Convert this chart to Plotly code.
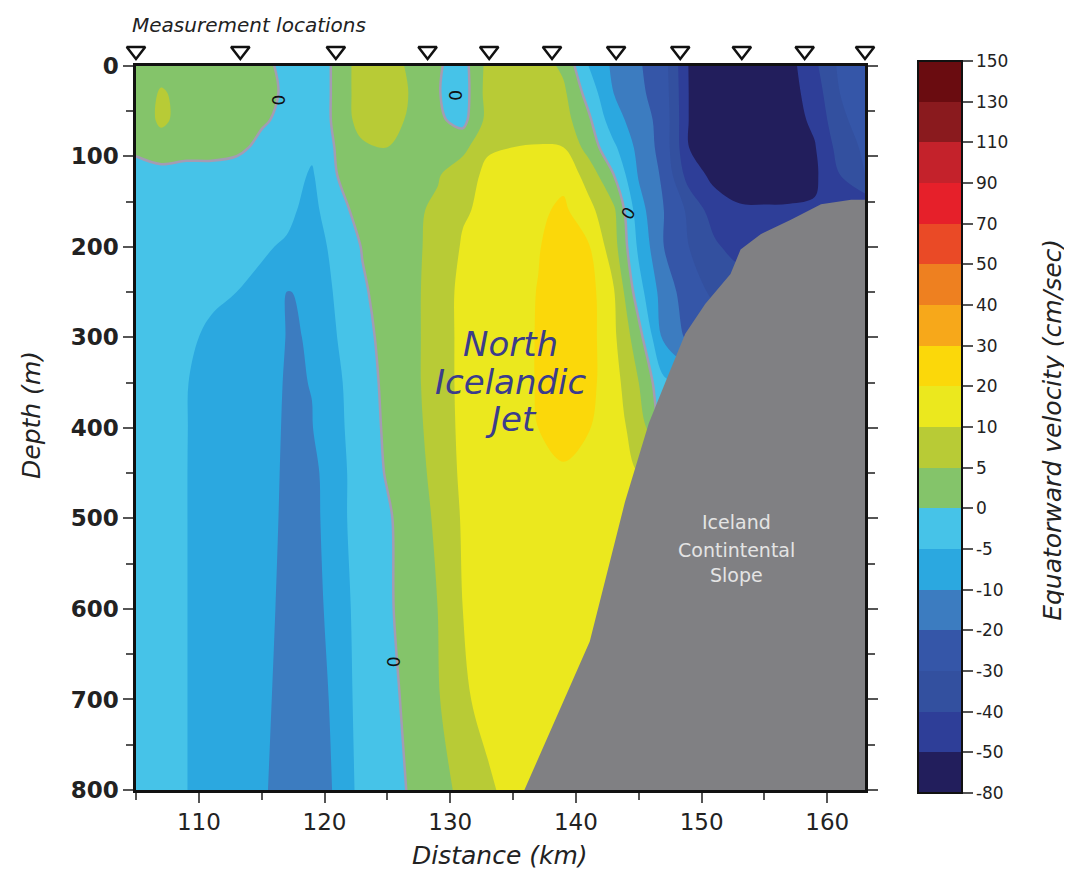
import numpy as np
import plotly.graph_objects as go

# ---------------- data ----------------
distance_km = [105, 107, 109, 111, 113, 115, 117, 119, 121, 123, 125, 127, 129, 131, 133,
               135, 137, 139, 141, 143, 145, 147, 149, 151, 153, 155, 157, 159, 161, 163]
depth_m = [0, 30, 60, 90, 120, 160, 200, 250, 300, 350, 400, 450, 500, 600, 700, 800]

# equatorward velocity (cm/s), one row per depth, one column per distance
velocity = [
    [2, 3, 2.5, 2.5, 2, 1, -1, -3, 1, 8, 7, 4, 0.5, -2, 6.5, 7, 7.5, 4, -5, -12, -19, -26, -52, -62, -65, -65, -60, -42, -28, -25],
    [2, 5.5, 3.5, 2.5, 2, 1, -0.5, -3, 1, 8, 7.5, 4.5, 0.3, -2.5, 7, 8, 8, 6, -2, -10, -18, -25, -51, -62, -66, -66, -62, -45, -30, -25],
    [1.5, 6, 3, 2.5, 2, 0.5, -1, -3, 1, 7.5, 7, 4, 0.8, -1.5, 6.5, 8, 8, 7, 1, -8, -15, -24, -51, -60, -66, -66, -62, -48, -32, -26],
    [1, 2.5, 1.5, 1.5, 1, -1, -2.5, -4, 0.5, 4, 5, 4, 3, 3.5, 9.5, 10, 10.5, 10, 3, -4, -13, -24, -50, -58, -66, -66, -62, -52, -36, -28],
    [-2, -1.5, -1.5, -1.5, -2, -2.5, -3, -5.5, 0, 2.5, 3.5, 4, 4.5, 8, 12, 13, 14, 17, 8, 0, -11, -22, -45, -58, -62, -65, -63, -55, -40, -30],
    [-3, -3, -3, -3, -3.5, -3.5, -4, -6.5, -1.5, 1.5, 3, 4, 6, 9.5, 12, 14, 18, 22, 13, 6, -8, -20, -32, -45, -49, -49, -49, -49, -49, -49],
    [-3, -3.5, -3.5, -4, -4, -4.5, -5.5, -8, -3, 0.2, 2.5, 4, 6.5, 11, 13, 16, 19.5, 24, 21, 7, -6, -20, -30, -38, -45, -45, -45, -45, -45, -45],
    [-3.5, -3.5, -4, -4.5, -5, -6, -10.1, -9.8, -4, -0.5, 1.5, 4, 7, 13, 14, 17, 20.3, 26, 24, 11, -3, -15, -25, -32, -32, -32, -32, -32, -32, -32],
    [-3.5, -3.5, -4.5, -5.5, -6.5, -7.5, -10.3, -9.9, -5, -1, 1, 4, 7, 13, 14, 17, 20.5, 26, 24, 12, 2, -12, -22, -22, -22, -22, -22, -22, -22, -22],
    [-3.5, -4, -4.9, -6, -6.5, -7.5, -11, -9.9, -6, -1.5, 0.8, 4, 7, 13, 14, 17, 20.5, 25, 23, 14, 5, -4, -6, -6, -6, -6, -6, -6, -6, -6],
    [-3.5, -4, -4.9, -6.5, -7, -7.5, -11.5, -10.3, -6.5, -1.5, 0.5, 3.5, 7, 12.5, 13.5, 16.5, 20, 23, 20.5, 14, 8, -2, -2, -2, -2, -2, -2, -2, -2, -2],
    [-3.5, -4, -4.9, -7, -7.5, -7.5, -12, -12.5, -7, -2, 0.3, 3, 6.5, 12, 13, 16, 18, 19, 17, 13, 10, 10, 10, 10, 10, 10, 10, 10, 10, 10],
    [-3.5, -4, -4.9, -7, -8, -8, -12, -13, -7, -2, -0.5, 2, 6, 11, 12.5, 15, 17, 18, 15, 13, 12, 12, 12, 12, 12, 12, 12, 12, 12, 12],
    [-3.5, -4.5, -4.9, -7, -8, -8.5, -12.5, -13.5, -8, -2.5, -0.5, 1.5, 5, 10, 12.5, 14, 16, 15, 14, 13, 13, 13, 13, 13, 13, 13, 13, 13, 13, 13],
    [-3.5, -4.5, -4.9, -7, -8, -9, -13, -14, -9, -2.5, -1, 1, 4.5, 9.5, 12, 13, 14, 13, 13, 13, 13, 13, 13, 13, 13, 13, 13, 13, 13, 13],
    [-3.5, -4.5, -4.9, -7, -8, -9.5, -13, -14, -9.5, -3, -1.5, 0.5, 3.5, 6, 9.5, 12, 12, 12, 12, 12, 12, 12, 12, 12, 12, 12, 12, 12, 12, 12],
]

levels = [-80, -50, -40, -30, -20, -10, -5, 0, 5, 10, 20, 30, 40, 50, 70, 90, 110, 130, 150]
band_colors = ["#221e5c", "#2e3e98", "#33509f", "#3556a8", "#3c7cc0", "#2ba8e0", "#46c3e8",
               "#84c46a", "#b8cb36", "#ebe81e", "#fbd80a", "#f7a81a", "#ee8020", "#ea4a26",
               "#e6202a", "#c4222b", "#8a1a1e", "#6a0c10"]

stations_km = [105, 113.3, 120.9, 128.2, 133.1, 138.1, 143.2, 148.3, 153.2, 158.2, 163]

slope_km = [135.9, 141.1, 143.9, 145.8, 147.4, 148.7, 150.3, 152.3, 153.1, 154.7, 157.1, 159.5, 161.9, 163]
slope_depth_m = [800, 636, 482, 395, 340, 296, 263, 230, 203, 186, 170, 153, 148, 148]

zero_label_km = [116.4, 130.4, 144.2, 125.6]
zero_label_depth = [38, 33, 163, 658]
zero_label_angle = [-90, -90, -60, -90]

x_range = [105, 163]
y_range = [800, 0]

# ---------------- layout geometry (screen pixels) ----------------
BODY = 8                      # default page margin around the plot div
PL, PR, PT, PB = 136, 865, 27, 790   # plot box incl. station strip
AX_TOP = 60                   # top of the section axis
W, H = 1072 - BODY, 886 - BODY


def px(xp):
    return (xp - PL) / (PR - PL)


def py(yp):
    return (PB - yp) / (PB - PT)


nb = len(levels) - 1
band_index = np.interp(np.array(velocity, dtype=float), levels, np.arange(len(levels)))

colorscale = []
for i, c in enumerate(band_colors):
    colorscale.append([i / nb, c])
    colorscale.append([(i + 1) / nb, c])

FONT = "DejaVu Sans"

fig = go.Figure()

fig.add_trace(go.Contour(
    x=distance_km, y=depth_m, z=band_index,
    zmin=0, zmax=nb, autocontour=False,
    contours=dict(start=0, end=nb, size=1, coloring="fill", showlines=False),
    colorscale=colorscale, line=dict(width=0), showscale=False, hoverinfo="skip",
))

zero_idx = levels.index(0)
fig.add_trace(go.Contour(
    x=distance_km, y=depth_m, z=band_index,
    autocontour=False,
    contours=dict(start=zero_idx, end=zero_idx, size=1, coloring="none", showlines=True),
    line=dict(color="#a39cb3", width=2.5), showscale=False, hoverinfo="skip",
))

# continental slope
poly_x = slope_km + [x_range[1], slope_km[0]]
poly_y = slope_depth_m + [y_range[0], y_range[0]]
fig.add_trace(go.Scatter(x=poly_x, y=poly_y, fill="toself", fillcolor="#808083",
                         line=dict(width=0, color="#808083"), mode="lines",
                         hoverinfo="skip", showlegend=False))

# measurement stations (in the strip above the section)
fig.add_trace(go.Scatter(x=stations_km, y=[0.45] * len(stations_km), yaxis="y2", mode="markers",
                         marker=dict(symbol="triangle-down-open", size=16, color="#111",
                                     line=dict(width=2.5, color="#111")),
                         cliponaxis=False, showlegend=False, hoverinfo="skip"))

# colorbar carrier
fig.add_trace(go.Scatter(
    x=[None], y=[None], mode="markers", showlegend=False, hoverinfo="skip",
    marker=dict(color=[0], cmin=0, cmax=nb, colorscale=colorscale, showscale=True,
                colorbar=dict(
                    tickmode="array", tickvals=list(range(len(levels))),
                    ticktext=[str(v) for v in levels],
                    thickness=44, len=732, lenmode="pixels",
                    x=px(918), xanchor="left", y=py(424), yanchor="middle",
                    xpad=0, ypad=0, outlinewidth=2, outlinecolor="#111",
                    ticks="outside", ticklen=10, tickwidth=1.5, tickcolor="#555",
                    tickfont=dict(family=FONT, size=17, color="#222"),
                ))))

annotations = []
for xk, dk, ang in zip(zero_label_km, zero_label_depth, zero_label_angle):
    annotations.append(dict(x=xk, y=dk, text="0", showarrow=False, textangle=ang,
                            xanchor="center", yanchor="middle",
                            font=dict(family=FONT, size=17, color="#111")))

for txt, d in zip(["North", "Icelandic", "Jet"], [307, 349, 390]):
    annotations.append(dict(x=134.8, y=d, text=txt, showarrow=False, xanchor="center", yanchor="middle",
                            font=dict(family=FONT, size=34, color="#3b3c8c", style="italic")))

for txt, d in zip(["Iceland", "Contintental", "Slope"], [504, 535, 562]):
    annotations.append(dict(x=152.8, y=d, text=txt, showarrow=False, xanchor="center", yanchor="middle",
                            font=dict(family=FONT, size=19, color="#e4e4e4")))

annotations.append(dict(x=px(130), y=py(19), xref="paper", yref="paper", text="Measurement locations",
                        showarrow=False, xanchor="left", yanchor="middle",
                        font=dict(family=FONT, size=20, color="#222", style="italic")))
annotations.append(dict(x=px(32), y=py(412), xref="paper", yref="paper",
                        text="Depth (m)", textangle=-90, showarrow=False,
                        xanchor="center", yanchor="middle",
                        font=dict(family=FONT, size=25, color="#222", style="italic")))
annotations.append(dict(x=px(500), y=py(856), xref="paper", yref="paper",
                        text="Distance (km)", showarrow=False, xanchor="center", yanchor="middle",
                        font=dict(family=FONT, size=25, color="#222", style="italic")))
annotations.append(dict(x=px(1053), y=py(427), xref="paper", yref="paper",
                        text="Equatorward velocity (cm/sec)", textangle=-90, showarrow=False,
                        xanchor="center", yanchor="middle",
                        font=dict(family=FONT, size=25, color="#222", style="italic")))

fig.update_layout(
    width=W, height=H,
    margin=dict(l=PL - BODY, r=W - (PR - BODY), t=PT - BODY, b=H - (PB - BODY)),
    paper_bgcolor="white", plot_bgcolor="white",
    showlegend=False,
    annotations=annotations,
    xaxis=dict(range=x_range, tick0=100, dtick=10, ticks="outside", ticklen=10, tickwidth=1.5,
               tickcolor="#555", showgrid=False, zeroline=False, showline=True, linewidth=2.5,
               linecolor="#111", mirror=True,
               minor=dict(dtick=5, ticks="outside", ticklen=7, tickwidth=1.5, tickcolor="#555"),
               tickfont=dict(family=FONT, size=23, color="#222")),
    yaxis=dict(range=y_range, domain=[0, py(AX_TOP)], tick0=0, dtick=100, ticks="outside",
               ticklen=10, tickwidth=1.5,
               tickcolor="#555", showgrid=False, zeroline=False, showline=True, linewidth=2.5,
               linecolor="#111", mirror="allticks",
               minor=dict(dtick=50, ticks="outside", ticklen=7, tickwidth=1.5, tickcolor="#555"),
               tickfont=dict(family=FONT, size=23, color="#222", weight="bold")),
    yaxis2=dict(domain=[py(AX_TOP), 1], range=[0, 1], anchor="x", visible=False),
)

fig.write_html("out.html")
